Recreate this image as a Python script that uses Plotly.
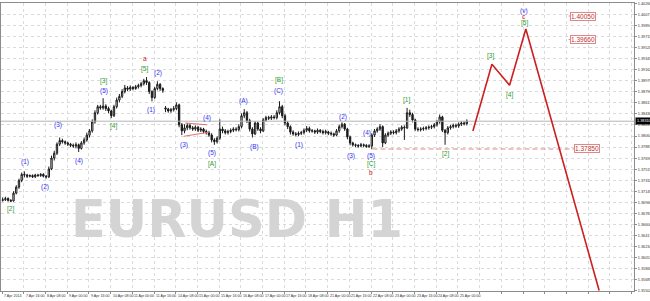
import plotly.graph_objects as go

# ---------------- data (2-hour bars, bar index k -> hourly index 2k) ----------------
first_open = 1.3700
gap_opens = {60: 1.3853, 120: 1.3813}

close = [
    1.3701, 1.3703, 1.3700, 1.3699, 1.3712, 1.3722, 1.3733, 1.3743, 1.3742, 1.3740,
    1.3741, 1.3739, 1.3742, 1.3741, 1.3743, 1.3740, 1.3739, 1.3752, 1.3770, 1.3778,
    1.3793, 1.3799, 1.3797, 1.3795, 1.3793, 1.3791, 1.3790, 1.3792, 1.3786, 1.3795,
    1.3800, 1.3808, 1.3815, 1.3830, 1.3845, 1.3855, 1.3853, 1.3856, 1.3852, 1.3848,
    1.3840, 1.3855, 1.3866, 1.3872, 1.3880, 1.3886, 1.3884, 1.3887, 1.3885, 1.3888,
    1.3890, 1.3893, 1.3898, 1.3895, 1.3880, 1.3870, 1.3885, 1.3892, 1.3885, 1.3882,
    1.3851, 1.3848, 1.3850, 1.3852, 1.3858, 1.3825, 1.3815, 1.3820, 1.3824, 1.3820,
    1.3818, 1.3821, 1.3816, 1.3818, 1.3814, 1.3812, 1.3808, 1.3800, 1.3797, 1.3803,
    1.3818, 1.3815, 1.3812, 1.3814, 1.3816, 1.3818, 1.3817, 1.3822, 1.3840, 1.3845,
    1.3832, 1.3818, 1.3810, 1.3828, 1.3818, 1.3815, 1.3833, 1.3837, 1.3836, 1.3838,
    1.3837, 1.3845, 1.3855, 1.3840, 1.3828, 1.3822, 1.3813, 1.3810, 1.3809, 1.3811,
    1.3812, 1.3816, 1.3819, 1.3815, 1.3815, 1.3813, 1.3816, 1.3814, 1.3812, 1.3814,
    1.3811, 1.3810, 1.3808, 1.3815, 1.3822, 1.3826, 1.3818, 1.3805, 1.3795, 1.3792,
    1.3791, 1.3790, 1.3792, 1.3791, 1.3789, 1.3790, 1.3808, 1.3815, 1.3818, 1.3822,
    1.3795, 1.3808, 1.3811, 1.3813, 1.3812, 1.3815, 1.3818, 1.3821, 1.3820, 1.3845,
    1.3842, 1.3833, 1.3818, 1.3817, 1.3818, 1.3819, 1.3820, 1.3821, 1.3822, 1.3825,
    1.3830, 1.3838, 1.3816, 1.3812, 1.3820, 1.3822, 1.3824, 1.3823, 1.3826, 1.3828,
    1.3827, 1.3831,
]
high = [
    1.3705, 1.3706, 1.3705, 1.3702, 1.3715, 1.3725, 1.3736, 1.3746, 1.3748, 1.3744,
    1.3743, 1.3743, 1.3744, 1.3744, 1.3745, 1.3745, 1.3742, 1.3756, 1.3774, 1.3782,
    1.3796, 1.3804, 1.3802, 1.3799, 1.3797, 1.3795, 1.3794, 1.3796, 1.3794, 1.3798,
    1.3804, 1.3812, 1.3818, 1.3834, 1.3849, 1.3858, 1.3858, 1.3869, 1.3859, 1.3855,
    1.3850, 1.3858, 1.3870, 1.3876, 1.3884, 1.3891, 1.3889, 1.3890, 1.3889, 1.3891,
    1.3893, 1.3896, 1.3901, 1.3904, 1.3897, 1.3882, 1.3888, 1.3897, 1.3894, 1.3887,
    1.3856, 1.3853, 1.3853, 1.3856, 1.3862, 1.3860, 1.3828, 1.3826, 1.3828, 1.3827,
    1.3823, 1.3824, 1.3823, 1.3821, 1.3820, 1.3817, 1.3815, 1.3811, 1.3803, 1.3806,
    1.3834, 1.3822, 1.3818, 1.3817, 1.3819, 1.3821, 1.3821, 1.3826, 1.3844, 1.3851,
    1.3848, 1.3835, 1.3821, 1.3831, 1.3830, 1.3821, 1.3836, 1.3840, 1.3840, 1.3841,
    1.3841, 1.3849, 1.3864, 1.3858, 1.3843, 1.3831, 1.3824, 1.3816, 1.3813, 1.3814,
    1.3815, 1.3819, 1.3823, 1.3822, 1.3818, 1.3817, 1.3819, 1.3818, 1.3817, 1.3817,
    1.3815, 1.3814, 1.3812, 1.3818, 1.3825, 1.3829, 1.3828, 1.3820, 1.3807, 1.3797,
    1.3794, 1.3793, 1.3795, 1.3794, 1.3793, 1.3793, 1.3811, 1.3818, 1.3821, 1.3826,
    1.3824, 1.3811, 1.3814, 1.3816, 1.3816, 1.3818, 1.3821, 1.3824, 1.3824, 1.3853,
    1.3850, 1.3845, 1.3835, 1.3821, 1.3821, 1.3822, 1.3823, 1.3824, 1.3825, 1.3828,
    1.3833, 1.3842, 1.3840, 1.3818, 1.3823, 1.3825, 1.3827, 1.3827, 1.3829, 1.3831,
    1.3831, 1.3834,
]
low = [
    1.3698, 1.3699, 1.3698, 1.3697, 1.3698, 1.3710, 1.3719, 1.3730, 1.3738, 1.3737,
    1.3738, 1.3737, 1.3737, 1.3739, 1.3739, 1.3738, 1.3736, 1.3737, 1.3750, 1.3766,
    1.3775, 1.3790, 1.3794, 1.3792, 1.3790, 1.3788, 1.3787, 1.3786, 1.3780, 1.3784,
    1.3792, 1.3797, 1.3804, 1.3812, 1.3827, 1.3842, 1.3850, 1.3850, 1.3848, 1.3844,
    1.3836, 1.3838, 1.3852, 1.3862, 1.3869, 1.3877, 1.3881, 1.3881, 1.3882, 1.3883,
    1.3885, 1.3887, 1.3890, 1.3891, 1.3876, 1.3864, 1.3868, 1.3882, 1.3881, 1.3878,
    1.3846, 1.3845, 1.3845, 1.3847, 1.3849, 1.3821, 1.3808, 1.3811, 1.3816, 1.3817,
    1.3815, 1.3815, 1.3813, 1.3813, 1.3811, 1.3809, 1.3805, 1.3796, 1.3792, 1.3794,
    1.3800, 1.3811, 1.3809, 1.3809, 1.3811, 1.3813, 1.3814, 1.3814, 1.3819, 1.3836,
    1.3828, 1.3814, 1.3804, 1.3808, 1.3815, 1.3811, 1.3813, 1.3830, 1.3833, 1.3833,
    1.3834, 1.3834, 1.3842, 1.3836, 1.3824, 1.3818, 1.3809, 1.3807, 1.3806, 1.3806,
    1.3808, 1.3809, 1.3813, 1.3812, 1.3812, 1.3810, 1.3810, 1.3811, 1.3809, 1.3809,
    1.3808, 1.3807, 1.3805, 1.3806, 1.3812, 1.3819, 1.3815, 1.3801, 1.3791, 1.3789,
    1.3788, 1.3787, 1.3788, 1.3788, 1.3787, 1.3787, 1.3785, 1.3805, 1.3812, 1.3815,
    1.3788, 1.3793, 1.3805, 1.3808, 1.3809, 1.3809, 1.3812, 1.3815, 1.3800, 1.3818,
    1.3838, 1.3829, 1.3815, 1.3814, 1.3814, 1.3815, 1.3816, 1.3817, 1.3818, 1.3819,
    1.3822, 1.3827, 1.3813, 1.3792, 1.3809, 1.3817, 1.3819, 1.3820, 1.3820, 1.3823,
    1.3824, 1.3824,
]

# wave labels: (hour index, price, text, colour-key)
wave_x = [6, 17, 32, 41, 57, 75, 75, 82, 105, 105, 110, 115, 134, 151, 155, 155,
          178, 186, 204, 204, 219, 251, 257, 269, 272, 272, 272, 298, 327,
          360, 374, 385, 385, 385]
wave_y = [1.36858, 1.37635, 1.37221, 1.38247, 1.37652, 1.38809, 1.38975, 1.38230,
          1.39173, 1.39355, 1.38495, 1.39107, 1.37916, 1.38363, 1.37784, 1.37602,
          1.38644, 1.37883, 1.38809, 1.38991, 1.37916, 1.38379, 1.37734, 1.38115,
          1.37734, 1.37602, 1.37453, 1.38660, 1.37767,
          1.39388, 1.38743, 1.39934, 1.40050, 1.40140]
wave_text = ["[2]", "(1)", "(2)", "(3)", "(4)", "(5)", "[3]", "[4]", "[5]", "a",
             "(1)", "(2)", "(3)", "(4)", "(5)", "[A]", "(A)", "(B)", "(C)", "[B]",
             "(1)", "(2)", "(3)", "(4)", "(5)", "[C]", "b", "[1]", "[2]",
             "[3]", "[4]", "[5]", "c", "(v)"]
wave_kind = ["g", "b", "b", "b", "b", "b", "g", "g", "g", "r",
             "b", "b", "b", "b", "b", "g", "b", "b", "b", "g",
             "b", "b", "b", "b", "b", "g", "r", "g", "g",
             "g", "g", "g", "r", "b"]

# projected path
proj_x = [347, 361, 374, 386, 440]
proj_y = [1.38147, 1.39253, 1.38906, 1.39835, 1.35510]

# target levels
level_vals = [1.40050, 1.39660, 1.37850]
level_box_x = [428.0, 428.0, 431.0]
support_start = 273
support_end = 421.5

# triangle lines
tri_x = [[135, 151], [134, 153]]
tri_y = [[1.3828, 1.3825], [1.3806, 1.3813]]

current_price = 1.38310

x_labels = ["7 Apr 2014", "7 Apr 16:00", "8 Apr 08:00", "9 Apr 00:00", "9 Apr 16:00",
            "10 Apr 08:00", "11 Apr 00:00", "11 Apr 16:00", "14 Apr 08:00",
            "15 Apr 00:00", "15 Apr 16:00", "16 Apr 08:00", "17 Apr 00:00",
            "17 Apr 16:00", "18 Apr 08:00", "21 Apr 00:00", "21 Apr 16:00",
            "22 Apr 08:00", "23 Apr 00:00", "23 Apr 16:00", "24 Apr 08:00",
            "25 Apr 00:00"]
bars_per_label = 16

y_ticks = [1.40260, 1.40077, 1.39894, 1.39711, 1.39528, 1.39345, 1.39162, 1.38979,
           1.38796, 1.38613, 1.38430, 1.38247, 1.38064, 1.37881, 1.37698, 1.37515,
           1.37332, 1.37149, 1.36966, 1.36783, 1.36600, 1.36417, 1.36234, 1.36051,
           1.35868, 1.35685, 1.35502]

watermark = "EURUSD H1"

# ---------------- build ----------------
opens = []
for k in range(len(close)):
    if k == 0:
        opens.append(first_open)
    elif k in gap_opens:
        opens.append(gap_opens[k])
    else:
        opens.append(close[k - 1])
bar_x = [2 * k + 0.5 for k in range(len(close))]

fig = go.Figure()
fig.add_trace(go.Candlestick(
    x=bar_x, open=opens, high=high, low=low, close=close,
    increasing=dict(line=dict(color="#1a1a1a", width=1), fillcolor="#ffffff"),
    decreasing=dict(line=dict(color="#1a1a1a", width=1), fillcolor="#1a1a1a"),
    whiskerwidth=0, showlegend=False, hoverinfo="skip"))

# current price line
fig.add_trace(go.Scatter(x=[-5, 470], y=[current_price, current_price], mode="lines",
                         line=dict(color="#b4b4b4", width=1), showlegend=False, hoverinfo="skip"))

for tx, ty in zip(tri_x, tri_y):
    fig.add_trace(go.Scatter(x=tx, y=ty, mode="lines", line=dict(color="#e07070", width=1),
                             showlegend=False, hoverinfo="skip"))

# support dashed line
fig.add_trace(go.Scatter(x=[support_start, support_end], y=[level_vals[2], level_vals[2]],
                         mode="lines", line=dict(color="#e08888", width=1, dash="5px,3px"),
                         showlegend=False, hoverinfo="skip"))
# small ticks before the upper target boxes
for v, bx in zip(level_vals[:2], level_box_x[:2]):
    fig.add_trace(go.Scatter(x=[bx - 10.5, bx - 9], y=[v, v], mode="lines",
                             line=dict(color="#e08888", width=1),
                             showlegend=False, hoverinfo="skip"))

fig.add_trace(go.Scatter(x=proj_x, y=proj_y, mode="lines",
                         line=dict(color="#cc1f1f", width=1.6),
                         showlegend=False, hoverinfo="skip"))

colors = {"b": "#3434f0", "g": "#2f9a2f", "r": "#d02020"}
ann = []
ann.append(dict(x=173, y=1.36676, xref="x", yref="y", text=watermark,
                showarrow=False, xanchor="center", yanchor="middle",
                font=dict(family="DejaVu Sans", size=51, weight="bold", color="#d4d4d4")))

for x, y, t, kd in zip(wave_x, wave_y, wave_text, wave_kind):
    ann.append(dict(x=x, y=y, text=t, showarrow=False, xref="x", yref="y",
                    font=dict(family="Liberation Sans, Arial", size=6.5, color=colors[kd])))

for v, bx in zip(level_vals, level_box_x):
    ann.append(dict(x=bx, y=v, text=f"{v:.5f}", showarrow=False, xref="x", yref="y",
                    font=dict(family="Liberation Sans, Arial", size=6.5, color="#c03030"),
                    bgcolor="#ffffff", bordercolor="#e08888", borderwidth=1, borderpad=0))

for n, lab in enumerate(x_labels):
    ann.append(dict(x=n * bars_per_label, y=0, xref="x", yref="paper", text=lab,
                    showarrow=False, xanchor="left", yanchor="top", xshift=0, yshift=-1,
                    font=dict(family="Liberation Sans, Arial", size=3.6, color="#333333")))

ann.append(dict(x=1, y=current_price, xref="paper", yref="y", text=f"{current_price:.5f}",
                showarrow=False, xanchor="left", xshift=1, bgcolor="#000000",
                font=dict(family="Liberation Sans, Arial", size=3.8, color="#ffffff"),
                borderpad=1))

fig.update_layout(
    width=650, height=301,
    margin=dict(l=1, r=16, t=3, b=10),
    paper_bgcolor="#ffffff", plot_bgcolor="#ffffff",
    annotations=ann, hovermode=False,
    xaxis=dict(range=[-0.74, 465.7], rangeslider=dict(visible=False), automargin=False,
               tickvals=list(range(0, 466, bars_per_label)), showticklabels=False,
               showgrid=True, gridcolor="#dadada", griddash="dot", gridwidth=1,
               zeroline=False, showline=True, linecolor="#8c8c8c", mirror=True,
               ticks="outside", ticklen=2, tickcolor="#8c8c8c"),
    yaxis=dict(range=[1.35501, 1.40265], side="right", tickvals=y_ticks, automargin=False,
               ticktext=[f"{v:.5f}" for v in y_ticks],
               tickfont=dict(family="Liberation Sans, Arial", size=3.8, color="#333333"),
               showgrid=True, gridcolor="#dadada", griddash="dot", gridwidth=1,
               zeroline=False, showline=True, linecolor="#8c8c8c", mirror=True,
               ticks="outside", ticklen=2, tickcolor="#8c8c8c"),
)
fig.write_html("out.html", config={"displayModeBar": False})
